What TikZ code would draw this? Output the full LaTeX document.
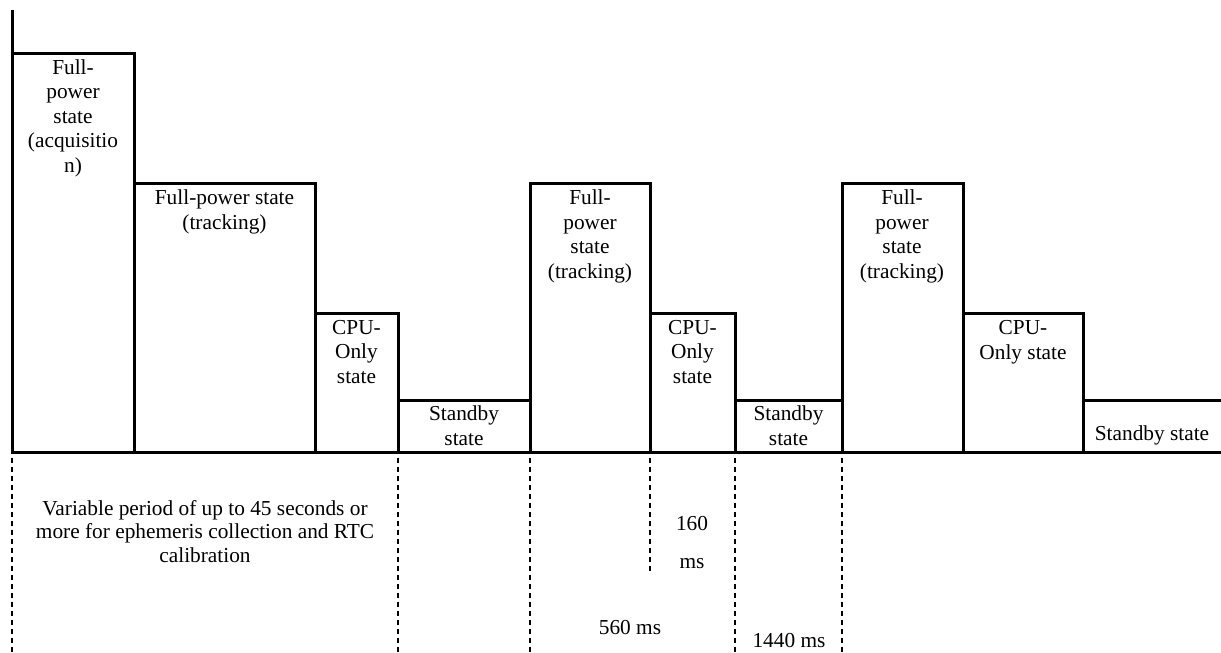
\documentclass[tikz,border=0pt]{standalone}
\usepackage{fontspec}
\setmainfont{Liberation Serif}
\begin{document}
\begin{tikzpicture}[x=0.75pt,y=-0.75pt,
  bar/.style={line width=2.25pt, line join=miter},
  guide/.style={line width=1.5pt, dash pattern=on 3.75pt off 3pt},
  lbl/.style={anchor=base, align=center, inner sep=0pt, font=\fontsize{16}{18.3}\selectfont}]
\useasboundingbox (0,0) rectangle (1221,653);
% axes
\draw[bar] (12,10) -- (12,452) -- (1221,452);
% state bars
\draw[bar] (12,452) |- (134,53) -- (134,452);
\draw[bar] (134,452) |- (315,183) -- (315,452);
\draw[bar] (315,452) |- (398,313) -- (398,452);
\draw[bar] (398,452) |- (530,400) -- (530,452);
\draw[bar] (530,452) |- (650,183) -- (650,452);
\draw[bar] (650,452) |- (735,313) -- (735,452);
\draw[bar] (735,452) |- (842,400) -- (842,452);
\draw[bar] (842,452) |- (963,183) -- (963,452);
\draw[bar] (963,452) |- (1083,313) -- (1083,452);
\draw[bar] (1083,452) |- (1221,400);
% labels (anchor = baseline of the last line)
\node[lbl] (acq) at (73,172) {Full-\\power\\state\\(acquisitio\\n)};
\node[lbl] (trk1) at (224.5,229) {Full-power state\\(tracking)};
\node[lbl] (cpu1) at (356.5,383) {CPU-\\Only\\state};
\node[lbl] (stb1) at (464,445) {Standby\\state};
\node[lbl] (trk2) at (590,278) {Full-\\power\\state\\(tracking)};
\node[lbl] (cpu2) at (692.5,383) {CPU-\\Only\\state};
\node[lbl] (stb2) at (788.5,445) {Standby\\state};
\node[lbl] (trk3) at (902,278) {Full-\\power\\state\\(tracking)};
\node[lbl] (cpu3) at (1023,359) {CPU-\\Only state};
\node[lbl] (stb3) at (1152,440) {Standby state};
% guide lines
\draw[guide] (12,458) -- (12,653);
\draw[guide] (398,458) -- (398,653);
\draw[guide] (530,458) -- (530,653);
\draw[guide] (650,458) -- (650,575);
\draw[guide] (735,458) -- (735,653);
\draw[guide] (842,458) -- (842,653);
% durations
\node[lbl, font=\fontsize{16}{17.6}\selectfont] (var) at (205,562) {Variable period of up to 45 seconds or\\more for ephemeris collection and RTC\\calibration};
\node[lbl] (t160) at (692,568) {160\\[10.2pt]ms};
\node[lbl] (t560) at (630,634) {560 ms};
\node[lbl] (t1440) at (789,647) {1440 ms};
\end{tikzpicture}
\end{document}
